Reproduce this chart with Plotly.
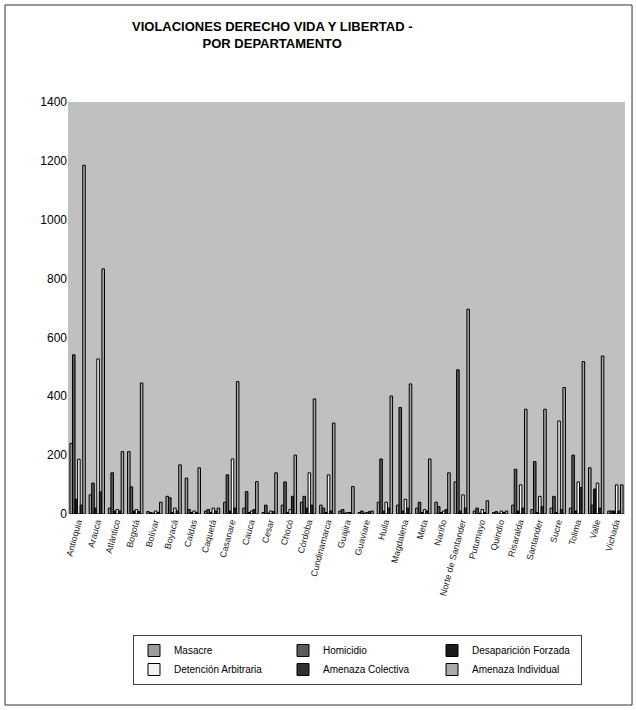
import plotly.graph_objects as go

# Departamentos (eje de categorías)
departamentos = [
    "Antioquia", "Arauca", "Atlántico", "Bogotá", "Bolívar", "Boyacá",
    "Caldas", "Caquetá", "Casanare", "Cauca", "Cesar", "Chocó", "Córdoba",
    "Cundinamarca", "Guajira", "Guaviare", "Huila", "Magdalena", "Meta",
    "Nariño", "Norte de Santander", "Putumayo", "Quindío", "Risaralda",
    "Santander", "Sucre", "Tolima", "Valle", "Vichada",
]

# Número de víctimas por tipo de violación
masacre = [240, 65, 20, 212, 8, 60, 122, 10, 40, 20, 5, 30, 40, 30, 10,
           5, 40, 30, 20, 40, 109, 10, 5, 30, 15, 20, 20, 157, 10]
homicidio = [541, 105, 140, 92, 5, 55, 15, 15, 133, 76, 30, 109, 60, 20, 15,
             10, 187, 362, 40, 25, 490, 20, 8, 152, 178, 60, 200, 30, 10]
desaparicion = [50, 20, 10, 10, 3, 5, 5, 5, 10, 5, 3, 5, 20, 5, 3,
                3, 10, 10, 5, 5, 10, 3, 2, 10, 5, 5, 10, 85, 10]
detencion = [186, 527, 15, 15, 10, 20, 10, 20, 187, 10, 10, 15, 140, 133, 5,
             5, 40, 50, 15, 10, 65, 15, 10, 99, 60, 316, 109, 105, 99]
amenaza_colectiva = [30, 75, 10, 8, 5, 10, 5, 10, 20, 15, 8, 60, 30, 10, 5,
                     8, 20, 20, 10, 15, 20, 5, 5, 20, 25, 15, 90, 20, 10]
amenaza_individual = [1185, 833, 212, 445, 40, 167, 157, 20, 450, 110, 140, 200, 391, 309, 93,
                      10, 401, 442, 187, 140, 696, 45, 10, 356, 356, 430, 518, 537, 99]

series = [
    ("Masacre", masacre, "#9c9c9c"),
    ("Homicidio", homicidio, "#5a5a5a"),
    ("Desaparición Forzada", desaparicion, "#1a1a1a"),
    ("Detención Arbitraria", detencion, "#f2f2f2"),
    ("Amenaza Colectiva", amenaza_colectiva, "#303030"),
    ("Amenaza Individual", amenaza_individual, "#a9a9a9"),
]

FONT = "Liberation Sans, Arial, sans-serif"

fig = go.Figure()
for nombre, valores, color in series:
    fig.add_trace(go.Bar(
        x=departamentos, y=valores, name=nombre,
        marker=dict(color=color, line=dict(color="#000000", width=1.0)),
    ))

fig.update_layout(
    width=636, height=710,
    margin=dict(l=68, r=11, t=102, b=196),
    paper_bgcolor="white",
    plot_bgcolor="#c0c0c0",
    barmode="group", bargap=0.2, bargroupgap=0,
    font=dict(family=FONT, color="#000000"),
    xaxis=dict(
        tickangle=-75, tickfont=dict(size=9, family=FONT, color="#222222"),
        showgrid=False, ticks="", showline=False,
    ),
    yaxis=dict(
        range=[0, 1400], dtick=200, tickfont=dict(size=12, family=FONT),
        showgrid=False, zeroline=False, ticks="", showline=False,
    ),
    legend=dict(
        orientation="h", x=0.1167, xanchor="left",
        y=-0.2937, yanchor="top",
        entrywidth=104, entrywidthmode="pixels",
        font=dict(size=10, family=FONT),
        bordercolor="#444444", borderwidth=1, bgcolor="white",
        traceorder="normal",
    ),
)

# Título en dos líneas
fig.add_annotation(
    text="<b>VIOLACIONES DERECHO VIDA Y LIBERTAD -<br>POR DEPARTAMENTO</b>",
    xref="paper", yref="paper", x=(272 - 68) / 557, y=(514 - 17) / 412,
    xanchor="center", yanchor="top", showarrow=False, align="center",
    font=dict(family=FONT, size=13, color="#000000"),
)

# Marco exterior del gráfico
fig.add_shape(type="rect", xref="paper", yref="paper",
              x0=-0.1131, x1=1.0126, y0=-0.4636, y1=1.2354,
              line=dict(color="#333333", width=1), fillcolor="rgba(0,0,0,0)",
              layer="below")

fig.write_html("out.html")
